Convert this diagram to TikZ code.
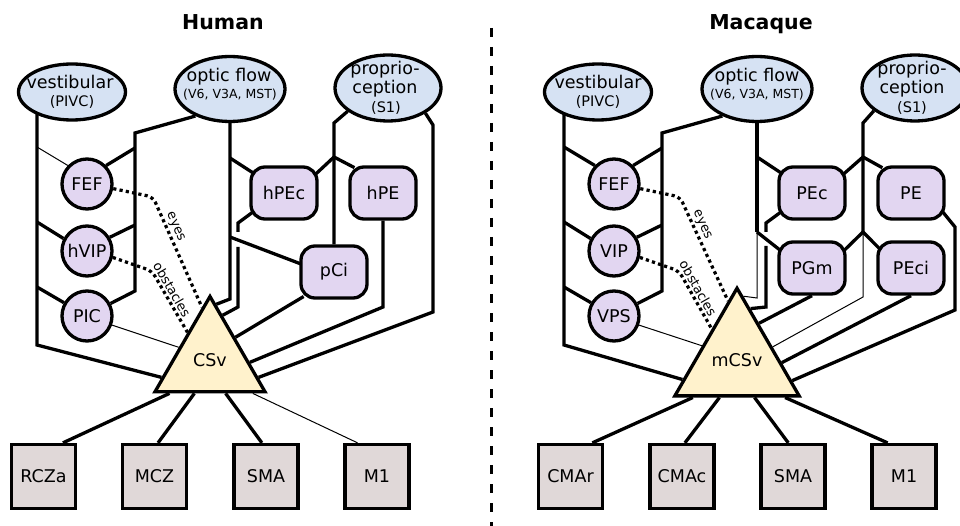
\documentclass[tikz,border=0pt]{standalone}
\usepackage{fontspec}
\setmainfont{DejaVu Sans}
\usetikzlibrary{shapes.geometric,backgrounds,calc}

\definecolor{senseblue}{HTML}{D6E2F3}
\definecolor{areapurple}{HTML}{E2D6F1}
\definecolor{hubyellow}{HTML}{FFF2CC}
\definecolor{motorgrey}{HTML}{E0D8D8}

\newcommand\fsMain{\fontsize{17.5pt}{20pt}\selectfont}
\newcommand\fsSub{\fontsize{14.5pt}{16pt}\selectfont}
\newcommand\fsTiny{\fontsize{12.5pt}{14pt}\selectfont}
\newcommand\fsNote{\fontsize{13pt}{15pt}\selectfont}
\newcommand\fsTitle{\fontsize{20.5pt}{24pt}\selectfont\bfseries}

\begin{document}
\begin{tikzpicture}[x=1pt,y=-1pt,
  sense/.style={ellipse, draw, line width=3.3pt, fill=senseblue, inner sep=0pt},
  area/.style={circle, draw, line width=3.3pt, fill=areapurple, minimum size=50pt, inner sep=0pt, font=\fsMain},
  parietal/.style={rectangle, rounded corners=14pt, draw, line width=3.3pt, fill=areapurple,
    minimum width=66pt, minimum height=52pt, inner sep=0pt, font=\fsMain},
  motor/.style={rectangle, draw, line width=3.3pt, fill=motorgrey, minimum size=64pt, inner sep=0pt, font=\fsMain},
  hub/.style={regular polygon, regular polygon sides=3, draw, line width=3.3pt, fill=hubyellow,
    minimum size=127pt, inner sep=0pt, font=\fsMain},
  conn/.style={line width=3.3pt},
  weak/.style={line width=1pt},
  gaze/.style={line width=3.2pt, dash pattern=on 3.2pt off 3.2pt, rounded corners=6pt},
  cue/.style={font=\fsNote, inner sep=1.5pt},
  paneltitle/.style={font=\fsTitle, anchor=base},
  into/.style={shorten >=-5pt},
  outof/.style={shorten <=-5pt},
]
\useasboundingbox (0,0) rectangle (960,526);

% ---------------- Human ----------------
\node[paneltitle] (humanT) at (223,30) {Human};

\node[sense, minimum width=107pt, minimum height=56pt] (vest) at (72,92) {};
\node[font=\fsMain] (vestA) at ($(vest)+(-2,-10)$) {vestibular};
\node[font=\fsSub] (vestB) at ($(vest)+(0,10)$) {(PIVC)};

\node[sense, minimum width=110pt, minimum height=65pt] (optic) at (230,89) {};
\node[font=\fsMain] (opticA) at ($(optic)+(-1,-12)$) {optic flow};
\node[font=\fsTiny] (opticB) at ($(optic)+(0,6)$) {(V6, V3A, MST)};

\node[sense, minimum width=106pt, minimum height=66pt] (prop) at (388,88) {};
\node[font=\fsMain] (propA) at ($(prop)+(-3,-18)$) {proprio-};
\node[font=\fsMain] (propB) at ($(prop)+(-3,1)$) {ception};
\node[font=\fsSub] (propC) at ($(prop)+(-2,20)$) {(S1)};

\node[area] (FEF) at (87,184) {FEF};
\node[area] (hVIP) at (87,251) {hVIP};
\node[area] (PIC) at (87,316) {PIC};

\node[parietal] (hPEc) at (284,193) {hPEc};
\node[parietal] (hPE) at (383,193) {hPE};
\node[parietal] (pCi) at (334,272) {pCi};

\node[hub] (CSv) at (210,360) {CSv};

\node[motor] (RCZa) at (43.5,476.5) {RCZa};
\node[motor] (MCZ) at (154.5,476.5) {MCZ};
\node[motor] (hSMA) at (266,476.5) {SMA};
\node[motor] (hM1) at (377,476.5) {M1};

% ---------------- Macaque ----------------
\node[paneltitle] (macT) at (761,30) {Macaque};

\node[sense, minimum width=107pt, minimum height=56pt] (mvest) at (598,92) {};
\node[font=\fsMain] (mvestA) at ($(mvest)+(0,-10)$) {vestibular};
\node[font=\fsSub] (mvestB) at ($(mvest)+(0,10)$) {(PIVC)};

\node[sense, minimum width=110pt, minimum height=65pt] (moptic) at (757,89) {};
\node[font=\fsMain] (mopticA) at ($(moptic)+(0,-12)$) {optic flow};
\node[font=\fsTiny] (mopticB) at ($(moptic)+(0,6)$) {(V6, V3A, MST)};

\node[sense, minimum width=106pt, minimum height=66pt] (mprop) at (915,88) {};
\node[font=\fsMain] (mpropA) at ($(mprop)+(-3,-18)$) {proprio-};
\node[font=\fsMain] (mpropB) at ($(mprop)+(-3,1)$) {ception};
\node[font=\fsSub] (mpropC) at ($(mprop)+(-3,20)$) {(S1)};

\node[area] (mFEF) at (614,184) {FEF};
\node[area] (VIP) at (614,251) {VIP};
\node[area] (VPS) at (614,316) {VPS};

\node[parietal] (PEc) at (812,193) {PEc};
\node[parietal] (PE) at (911,193) {PE};
\node[parietal] (PGm) at (812,268) {PGm};
\node[parietal] (PEci) at (911,268) {PEci};

\node[hub] (mCSv) at (737,360) {mCSv};

\node[motor] (CMAr) at (570.5,476.5) {CMAr};
\node[motor] (CMAc) at (682,476.5) {CMAc};
\node[motor] (mSMA) at (793,476.5) {SMA};
\node[motor] (mM1) at (904,476.5) {M1};

% junctions, human
\coordinate (hv1) at (37,147); \coordinate (hv2) at (37,222);
\coordinate (hv3) at (37,287); \coordinate (hv4) at (37,345);
\coordinate (ho0) at (135,133); \coordinate (ho1) at (135,148);
\coordinate (ho2) at (135,225); \coordinate (ho3) at (135,291);
\coordinate (hc1) at (230,158); \coordinate (hc2) at (230,237);
\coordinate (hc3) at (230,299);
\coordinate (hp1) at (238,223); \coordinate (hpa) at (238,232);
\coordinate (hpb) at (238,247); \coordinate (hp2) at (238,307);
\coordinate (hs0) at (334,123); \coordinate (hs1) at (334,157);
\coordinate (he1) at (383,307);
\coordinate (hr0) at (433,125); \coordinate (hr1) at (433,312);
\coordinate (heb) at (153,197); \coordinate (hob) at (152,271);

% junctions, macaque
\coordinate (mv1) at (564,147); \coordinate (mv2) at (564,222);
\coordinate (mv3) at (564,287); \coordinate (mv4) at (564,345);
\coordinate (mo0) at (662,133); \coordinate (mo1) at (662,148);
\coordinate (mo2) at (662,225); \coordinate (mo3) at (662,291);
\coordinate (mc1) at (757,157); \coordinate (mc2) at (757,232);
\coordinate (mc3) at (757,298);
\coordinate (mp1) at (766,223); \coordinate (mpa) at (766,232);
\coordinate (mpb) at (766,246); \coordinate (mp2) at (766,307);
\coordinate (ms0) at (863,123); \coordinate (ms1) at (863,157);
\coordinate (ms2) at (863,232); \coordinate (ms3) at (863,297);
\coordinate (mr0) at (955,227); \coordinate (mr1) at (955,310);
\coordinate (meb) at (680,197); \coordinate (mob) at (679,271);

\begin{pgfonlayer}{background}
\fill[white] (0,0) rectangle (960,526);

% panel divider
\draw[line width=3pt, dash pattern=on 9pt off 10pt] (491,28) -- (491,526);

% ---- human connections ----
\draw[conn] (vest.center -| hv1) -- (hv4) -- ($(CSv.corner 1)!.84!(CSv.corner 2)$);
\draw[weak] (hv1) -- (FEF.136);
\draw[conn] (hv2) -- (hVIP.152);
\draw[conn] (hv3) -- (PIC.150);
\draw[conn] (optic.218) -- (ho0) -- (ho3) -- (PIC.28);
\draw[conn] (ho1) -- (FEF.44);
\draw[conn] (ho2) -- (hVIP.31);
\draw[weak] (PIC.-20) -- ($(CSv.corner 1)!.54!(CSv.corner 2)$);
\draw[conn] (optic.south) -- (hc3) -- ($(CSv.corner 1)!.11!(CSv.corner 3)$);
\draw[conn, into] (hc1) -- (hPEc.147);
\draw[conn, into] (hc2) -- (pCi.166);
\draw[conn, outof] (hPEc.212) -- (hp1) -- (hpa);
\draw[conn] (hpb) -- (hp2) -- ($(CSv.corner 1)!.22!(CSv.corner 3)$);
\draw[conn, outof] (pCi.218) -- ($(CSv.corner 1)!.44!(CSv.corner 3)$);
\draw[conn] (prop.210) -- (hs0) -- (pCi.north);
\draw[conn, into] (hs1) -- (hPEc.32);
\draw[conn, into] (hs1) -- (hPE.140);
\draw[conn] (hPE.south) -- (he1) -- ($(CSv.corner 1)!.69!(CSv.corner 3)$);
\draw[conn] (prop.-34) -- (hr0) -- (hr1) -- ($(CSv.corner 1)!.84!(CSv.corner 3)$);
\draw[gaze] (FEF.-10) -- (heb) -- node[cue, sloped, above, pos=.3] {eyes}
  ($(CSv.corner 1)!.14!(CSv.corner 2)$);
\draw[gaze] (hVIP.-14) -- (hob) -- node[cue, sloped, above, pos=.37] {obstacles}
  ($(CSv.corner 1)!.39!(CSv.corner 2)$);
\draw[conn] (RCZa.60) -- ($(CSv.corner 2)!.15!(CSv.corner 3)$);
\draw[conn] (MCZ.84) -- ($(CSv.corner 2)!.365!(CSv.corner 3)$);
\draw[conn] (hSMA.97) -- ($(CSv.corner 2)!.635!(CSv.corner 3)$);
\draw[weak] (hM1.120) -- ($(CSv.corner 2)!.87!(CSv.corner 3)$);

% ---- macaque connections ----
\draw[conn] (mvest.center -| mv1) -- (mv4) -- ($(mCSv.corner 1)!.84!(mCSv.corner 2)$);
\draw[conn] (mv1) -- (mFEF.136);
\draw[conn] (mv2) -- (VIP.152);
\draw[conn] (mv3) -- (VPS.150);
\draw[conn] (moptic.218) -- (mo0) -- (mo3) -- (VPS.28);
\draw[conn] (mo1) -- (mFEF.44);
\draw[conn] (mo2) -- (VIP.31);
\draw[weak] (VPS.-20) -- ($(mCSv.corner 1)!.54!(mCSv.corner 2)$);
\draw[conn] (moptic.south) -- (mc2);
\draw[weak] (mc2) -- (mc3) -- ($(mCSv.corner 1)!.10!(mCSv.corner 3)$);
\draw[conn, into] (mc1) -- (PEc.147);
\draw[conn, into] (mc2) -- (PGm.150);
\draw[conn, outof] (PEc.212) -- (mp1) -- (mpa);
\draw[conn] (mpb) -- (mp2) -- ($(mCSv.corner 1)!.21!(mCSv.corner 3)$);
\draw[conn] (PGm.south) -- ($(mCSv.corner 1)!.34!(mCSv.corner 3)$);
\draw[conn] (mprop.209) -- (ms0) -- (ms2);
\draw[weak] (ms2) -- (ms3) -- ($(mCSv.corner 1)!.55!(mCSv.corner 3)$);
\draw[conn, into] (ms1) -- (PEc.32);
\draw[conn, into] (ms1) -- (PE.140);
\draw[conn, into] (ms2) -- (PGm.30);
\draw[conn, into] (ms2) -- (PEci.147);
\draw[conn, outof] (PE.-33) -- (mr0) -- (mr1) -- ($(mCSv.corner 1)!.85!(mCSv.corner 3)$);
\draw[conn] (PEci.south) -- ($(mCSv.corner 1)!.69!(mCSv.corner 3)$);
\draw[gaze] (mFEF.-10) -- (meb) -- node[cue, sloped, above, pos=.3] {eyes}
  ($(mCSv.corner 1)!.14!(mCSv.corner 2)$);
\draw[gaze] (VIP.-14) -- (mob) -- node[cue, sloped, above, pos=.37] {obstacles}
  ($(mCSv.corner 1)!.39!(mCSv.corner 2)$);
\draw[conn] (CMAr.57) -- ($(mCSv.corner 2)!.16!(mCSv.corner 3)$);
\draw[conn] (CMAc.85) -- ($(mCSv.corner 2)!.365!(mCSv.corner 3)$);
\draw[conn] (mSMA.98) -- ($(mCSv.corner 2)!.635!(mCSv.corner 3)$);
\draw[conn] (mM1.116) -- ($(mCSv.corner 2)!.87!(mCSv.corner 3)$);
\end{pgfonlayer}
\end{tikzpicture}
\end{document}
